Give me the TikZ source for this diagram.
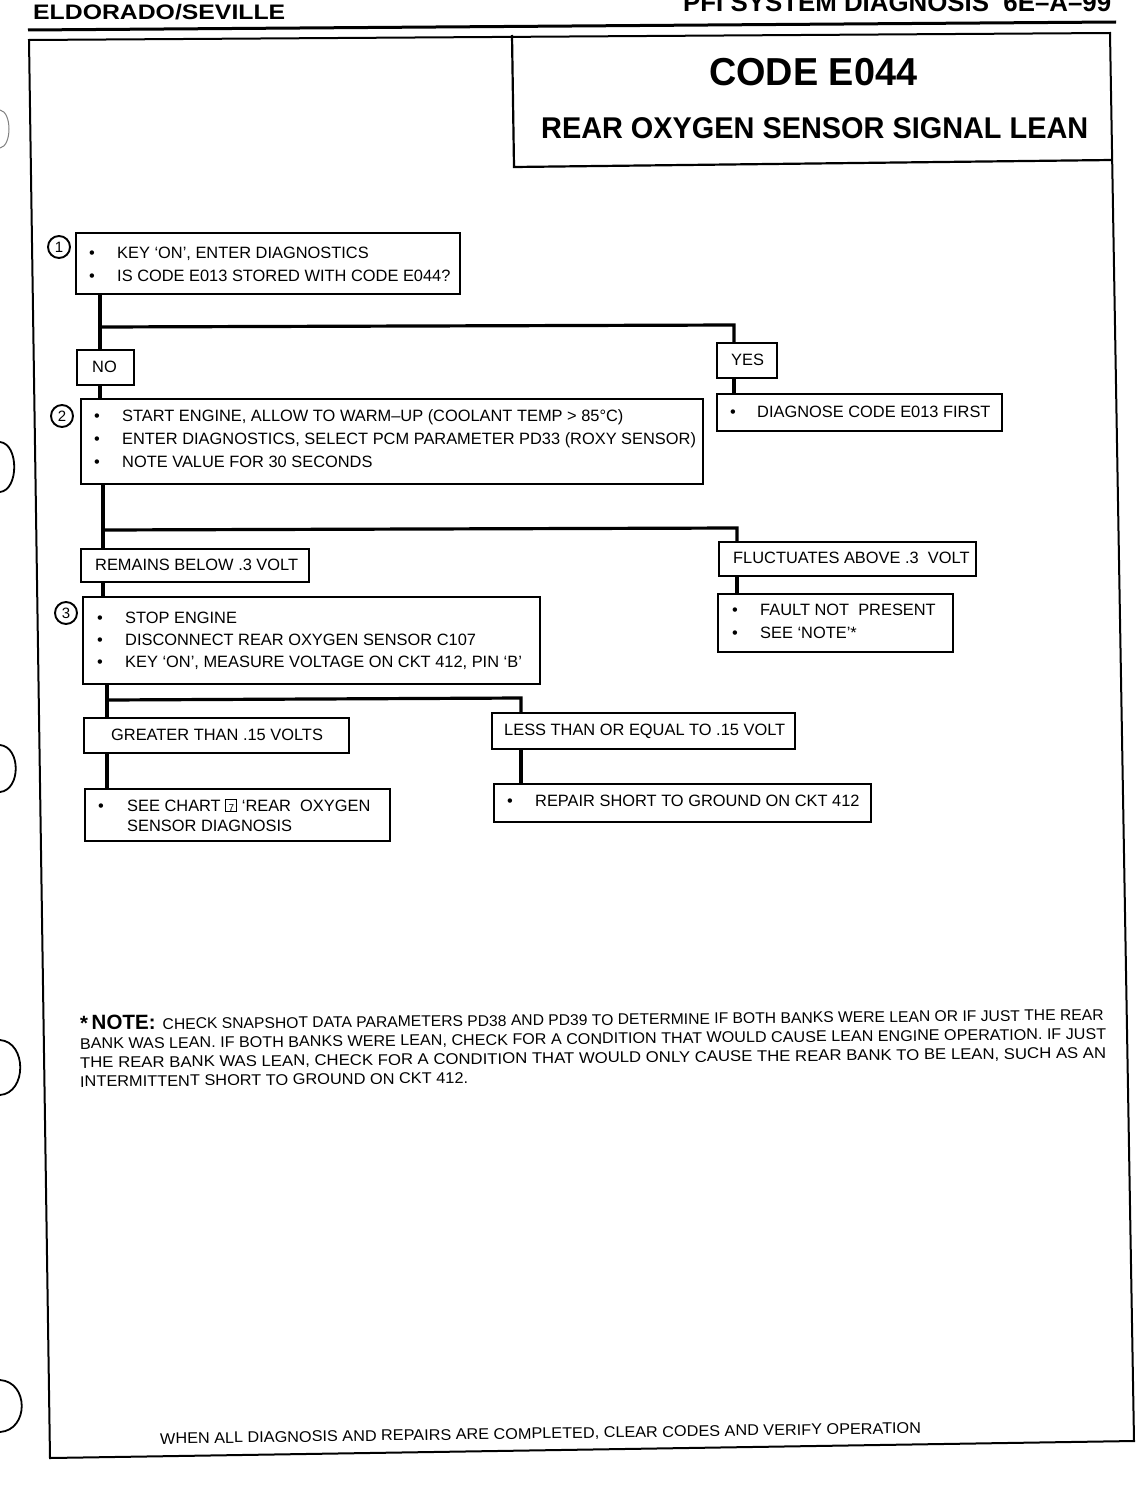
\documentclass[tikz,border=0pt]{standalone}
\usepackage{fontspec}
\setmainfont{Liberation Sans}
\usepackage{graphicx}
\newcommand{\fitw}[2]{\resizebox{#1pt}{\height}{#2}}
\newcommand{\bxf}{\fontsize{16.4}{18}\selectfont}
\newcommand{\bul}[1]{\makebox[#1pt][l]{•}}
\newcommand{\chartsev}{{\setlength\fboxsep{0pt}\setlength\fboxrule{1pt}\fbox{\makebox[10pt][c]{\rule{0pt}{11pt}\fontsize{10}{10}\selectfont 7}}}}
\begin{document}
\begin{tikzpicture}[x=1pt,y=-1pt,
  box/.style={draw, line width=2.2pt, inner sep=0pt, anchor=north west, rectangle},
  conn/.style={line width=3.2pt},
  txt/.style={inner sep=0pt, anchor=base west, font=\bxf},
  num/.style={draw, circle, line width=1.9pt, minimum size=22pt, inner sep=0pt, font=\fontsize{15}{15}\selectfont},
  hole/.style={line width=1.8pt},
  notef/.style={inner sep=0pt, anchor=base west, rotate=0.55, font=\fontsize{15.5}{16}\selectfont}
]
\useasboundingbox (0,0) rectangle (1136,1488);
\fill[white] (0,0) rectangle (1136,1488);

% header
\node[inner sep=0pt, anchor=base west, font=\fontsize{21}{21}\selectfont\bfseries] (hl) at (33,20) {\fitw{252}{ELDORADO/SEVILLE}};
\node[inner sep=0pt, anchor=base west, font=\fontsize{25.7}{26}\selectfont\bfseries] (hr) at (683,12) {\fitw{428}{PFI SYSTEM DIAGNOSIS\ \ 6E–A–99}};
\draw[line width=3pt] (28,30) -- (1116,22);

% frame
\draw[line width=2pt, line join=miter] (29,40) -- (1110,33) -- (1134,1441) -- (50,1458) -- cycle;

% title box
\draw[line width=2.2pt] (512,35) -- (514,167) -- (1112,160);
\node[inner sep=0pt, anchor=base west, font=\fontsize{39}{39}\selectfont\bfseries] (code) at (709,85) {\fitw{208}{CODE E044}};
\node[inner sep=0pt, anchor=base west, font=\fontsize{30}{30}\selectfont\bfseries] (ttl) at (541,138) {\fitw{547}{REAR OXYGEN SENSOR SIGNAL LEAN}};

% binder holes
\draw[line width=1pt, gray] (0,110) .. controls (12,112) and (12,146) .. (0,148);
\draw[hole] (0,442) .. controls (19,444) and (19,490) .. (0,492);
\draw[hole] (0,745) .. controls (21,747) and (21,790) .. (0,792);
\draw[hole] (0,1040) .. controls (27,1042) and (27,1093) .. (0,1095);
\draw[hole] (0,1380) .. controls (29,1382) and (29,1430) .. (0,1432);

% step 1
\node[num] (c1) at (59,247) {1};
\node[box, minimum width=384pt, minimum height=61pt] (s1) at (75,232) {};
\node[txt] (t1a) at (89,258) {\bul{28}KEY ‘ON’, ENTER DIAGNOSTICS};
\node[txt] (t1b) at (89,281) {\bul{28}IS CODE E013 STORED WITH CODE E044?};

\node[box, minimum width=57pt, minimum height=35pt] (no) at (76,349) {};
\node[txt] (tno) at (92,372) {NO};
\node[box, minimum width=60pt, minimum height=35pt] (yes) at (716,342) {};
\node[txt] (tyes) at (731,365) {YES};
\node[box, minimum width=285pt, minimum height=37pt] (dg) at (716,393) {};
\node[txt] (tdg) at (730,417) {\bul{27}DIAGNOSE CODE E013 FIRST};

% step 2
\node[num] (c2) at (62,416) {2};
\node[box, minimum width=622pt, minimum height=85pt] (s2) at (80,398) {};
\node[txt] (t2a) at (94,421) {\bul{28}START ENGINE, ALLOW TO WARM–UP (COOLANT TEMP > 85°C)};
\node[txt] (t2b) at (94,444) {\bul{28}ENTER DIAGNOSTICS, SELECT PCM PARAMETER PD33 (ROXY SENSOR)};
\node[txt] (t2c) at (94,467) {\bul{28}NOTE VALUE FOR 30 SECONDS};

\node[box, minimum width=228pt, minimum height=33pt] (rem) at (80,548) {};
\node[txt] (trem) at (95,570) {REMAINS BELOW .3 VOLT};
\node[box, minimum width=257pt, minimum height=34pt] (fl) at (718,541) {};
\node[txt] (tfl) at (733,563) {FLUCTUATES ABOVE .3\ \ VOLT};
\node[box, minimum width=235pt, minimum height=58pt] (fa) at (717,593) {};
\node[txt] (tfa) at (732,615) {\bul{28}FAULT NOT\ \ PRESENT};
\node[txt] (tfb) at (732,638) {\bul{28}SEE ‘NOTE’*};

% step 3
\node[num] (c3) at (66,613) {3};
\node[box, minimum width=457pt, minimum height=87pt] (s3) at (82,596) {};
\node[txt] (t3a) at (97,623) {\bul{28}STOP ENGINE};
\node[txt] (t3b) at (97,645) {\bul{28}DISCONNECT REAR OXYGEN SENSOR C107};
\node[txt] (t3c) at (97,667) {\bul{28}KEY ‘ON’, MEASURE VOLTAGE ON CKT 412, PIN ‘B’};

\node[box, minimum width=265pt, minimum height=35pt] (gt) at (83,717) {};
\node[txt] (tgt) at (111,740) {GREATER THAN .15 VOLTS};
\node[box, minimum width=303pt, minimum height=36pt] (ls) at (491,712) {};
\node[txt] (tls) at (504,735) {LESS THAN OR EQUAL TO .15 VOLT};

\node[box, minimum width=305pt, minimum height=52pt] (sc) at (84,788) {};
\node[txt] (tsa) at (98,811) {\bul{29}SEE CHART \chartsev\ ‘REAR\ \ OXYGEN};
\node[txt] (tsb) at (127,831) {SENSOR DIAGNOSIS};
\node[box, minimum width=377pt, minimum height=38pt] (rp) at (493,783) {};
\node[txt] (trp) at (507,806) {\bul{28}REPAIR SHORT TO GROUND ON CKT 412};

% connectors
\coordinate (j1) at (100,327);
\coordinate (j1r) at (734,325);
\draw[conn] (j1 |- s1.south) -- (j1 |- no.north);
\draw[conn, line join=miter] (j1) -- (j1r) -- (j1r |- yes.north);
\draw[conn] (j1 |- no.south) -- (j1 |- s2.north);
\draw[conn] (j1r |- yes.south) -- (j1r |- dg.north);

\coordinate (j2) at (103,530);
\coordinate (j2r) at (737,528);
\draw[conn] (j2 |- s2.south) -- (j2 |- rem.north);
\draw[conn, line join=miter] (j2) -- (j2r) -- (j2r |- fl.north);
\draw[conn] (j2 |- rem.south) -- (j2 |- s3.north);
\draw[conn] (j2r |- fl.south) -- (j2r |- fa.north);

\coordinate (j3) at (107,700);
\coordinate (j3r) at (521,698);
\draw[conn] (j3 |- s3.south) -- (j3 |- gt.north);
\draw[conn, line join=miter] (j3) -- (j3r) -- (j3r |- ls.north);
\draw[conn] (j3 |- gt.south) -- (j3 |- sc.north);
\draw[conn] (j3r |- ls.south) -- (j3r |- rp.north);

% note
\node[notef] (n1) at (80,1030) {{\fontsize{20.6}{20}\selectfont\bfseries *\,NOTE:}\hspace{7pt}\fitw{941}{CHECK SNAPSHOT DATA PARAMETERS PD38 AND PD39 TO DETERMINE IF BOTH BANKS WERE LEAN OR IF JUST THE REAR}};
\node[notef] (n2) at (80,1049) {\fitw{1026}{BANK WAS LEAN. IF BOTH BANKS WERE LEAN, CHECK FOR A CONDITION THAT WOULD CAUSE LEAN ENGINE OPERATION. IF JUST}};
\node[notef] (n3) at (80,1068) {\fitw{1026}{THE REAR BANK WAS LEAN, CHECK FOR A CONDITION THAT WOULD ONLY CAUSE THE REAR BANK TO BE LEAN, SUCH AS AN}};
\node[notef] (n4) at (80,1087) {\fitw{388}{INTERMITTENT SHORT TO GROUND ON CKT 412.}};

% final line
\node[inner sep=0pt, anchor=base west, rotate=0.8, font=\fontsize{15.5}{16}\selectfont] (fin) at (160,1444) {\fitw{761}{WHEN ALL DIAGNOSIS AND REPAIRS ARE COMPLETED, CLEAR CODES AND VERIFY OPERATION}};
\end{tikzpicture}
\end{document}
